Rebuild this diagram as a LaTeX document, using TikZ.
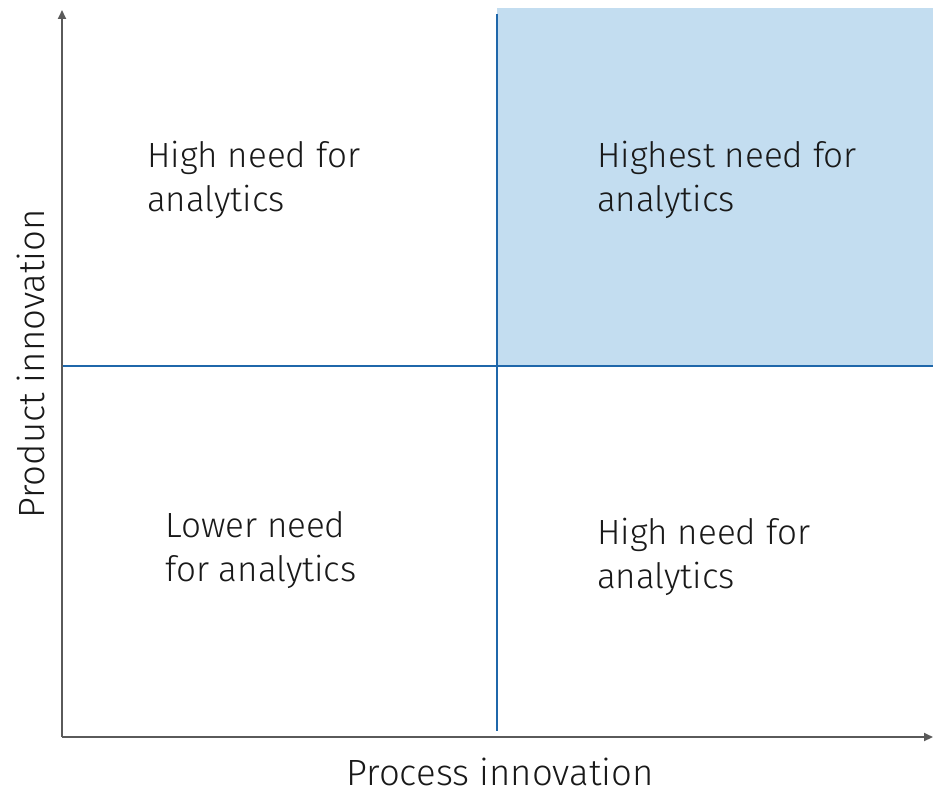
\documentclass[tikz,border=0pt]{standalone}
\usepackage{fontspec}
\setmainfont{Fira Sans Light}
\usetikzlibrary{arrows.meta}
\definecolor{axisgray}{HTML}{5A5A5A}
\definecolor{divblue}{HTML}{1F67AA}
\definecolor{hotfill}{HTML}{C3DDF0}
\tikzset{
  axisline/.style={draw=axisgray, line width=2pt, -{Triangle[length=9pt,width=8pt]}},
  divider/.style={draw=divblue, line width=1.6pt},
  % anchored at the baseline of the last line
  quadtext/.style={anchor=base west, align=left, inner sep=0pt,
    font=\fontsize{35}{44}\selectfont, text=black!90},
  axislabel/.style={inner sep=0pt, text depth=0pt,
    font=\fontsize{36.5}{40}\selectfont, text=black!90}
}
\begin{document}
\begin{tikzpicture}[x=1pt,y=-1pt]
\useasboundingbox (0,0) rectangle (933,789);
% highlighted quadrant
\fill[hotfill] (497,8) rectangle (933,366);
% quadrant dividers
\coordinate (vtop) at (497,14);
\coordinate (vbot) at (497,731);
\coordinate (hleft) at (62,366);
\coordinate (hright) at (933,366);
\draw[divider] (vtop) -- (vbot);
\draw[divider] (hleft) -- (hright);
% axes
\coordinate (origin) at (62,737);
\coordinate (ytip) at (62,10);
\coordinate (xtip) at (933,737);
\draw[axisline] (origin) -- (ytip);
\draw[axisline] (origin) -- (xtip);
% quadrant labels
\node[quadtext] (tl) at (147,211) {High need for\\analytics};
\node[quadtext] (tr) at (597,211) {Highest need for\\analytics};
\node[quadtext] (bl) at (165,581) {Lower need\\for analytics};
\node[quadtext] (br) at (597,588) {High need for\\analytics};
% axis labels
\node[axislabel, anchor=base] (xlab) at (500,785) {Process innovation};
\node[axislabel, anchor=base, rotate=90] (ylab) at (44,364) {Product innovation};
\end{tikzpicture}
\end{document}
